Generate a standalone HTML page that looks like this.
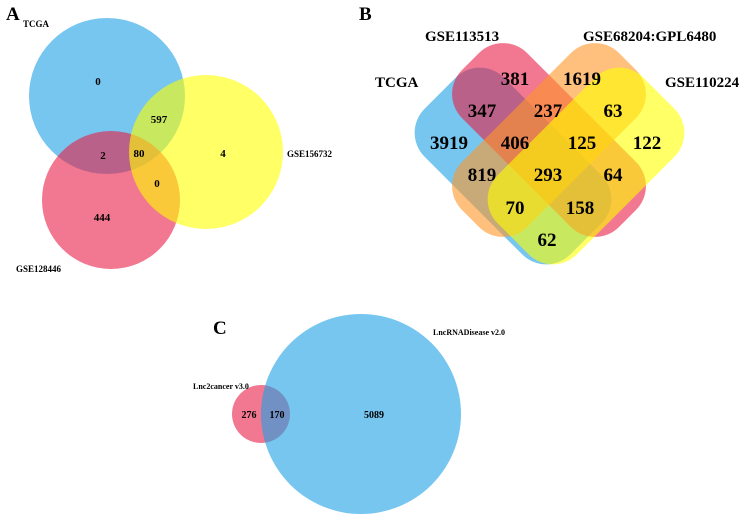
<!DOCTYPE html>
<html><head><meta charset="utf-8"><style>
html,body{margin:0;padding:0;background:#fff;}
svg{display:block;font-family:"Liberation Serif",serif;font-weight:bold;}
</style></head><body>
<svg width="755" height="522" viewBox="0 0 755 522">
<g>
  <text x="6" y="20" font-size="19">A</text>
  <circle cx="107" cy="96" r="78" fill="rgb(28,160,230)" fill-opacity="0.6"/>
  <circle cx="111" cy="200" r="69" fill="rgb(232,30,70)" fill-opacity="0.6"/>
  <circle cx="206" cy="152" r="77" fill="rgb(255,255,0)" fill-opacity="0.6"/>
  <g font-size="11" text-anchor="middle">
    <text x="98" y="85">0</text>
    <text x="159" y="123">597</text>
    <text x="103" y="159">2</text>
    <text x="139" y="157">80</text>
    <text x="223" y="157">4</text>
    <text x="157" y="187">0</text>
    <text x="102" y="221">444</text>
  </g>
  <g font-size="9">
    <text x="23" y="27">TCGA</text>
    <text x="287" y="157">GSE156732</text>
    <text x="16" y="272">GSE128446</text>
  </g>
</g>
<g>
  <text x="359" y="20" font-size="19">B</text>
  <rect x="410" y="110" width="206" height="112" rx="34" transform="rotate(45 513 166)" fill="rgb(28,160,230)" fill-opacity="0.6"/>
  <rect x="438" y="94" width="222" height="92" rx="34" transform="rotate(45 549 140)" fill="rgb(232,30,70)" fill-opacity="0.6"/>
  <rect x="438" y="94" width="222" height="92" rx="34" transform="rotate(-45 549 140)" fill="rgb(255,150,40)" fill-opacity="0.6"/>
  <rect x="483" y="110" width="206" height="112" rx="34" transform="rotate(-45 586 166)" fill="rgb(255,255,0)" fill-opacity="0.6"/>
  <g font-size="19" text-anchor="middle">
    <text x="515" y="85">381</text>
    <text x="582" y="85">1619</text>
    <text x="482" y="117">347</text>
    <text x="548" y="117">237</text>
    <text x="613" y="117">63</text>
    <text x="449" y="149">3919</text>
    <text x="515" y="149">406</text>
    <text x="582" y="149">125</text>
    <text x="647" y="149">122</text>
    <text x="482" y="181">819</text>
    <text x="548" y="181">293</text>
    <text x="613" y="181">64</text>
    <text x="515" y="214">70</text>
    <text x="580" y="214">158</text>
    <text x="547" y="246">62</text>
  </g>
  <g font-size="15">
    <text x="375" y="87">TCGA</text>
    <text x="425" y="41">GSE113513</text>
    <text x="583" y="41">GSE68204:GPL6480</text>
    <text x="665" y="87">GSE110224</text>
  </g>
</g>
<g>
  <text x="213" y="334" font-size="19">C</text>
  <circle cx="261" cy="414" r="29" fill="rgb(232,30,70)" fill-opacity="0.6"/>
  <circle cx="361" cy="414" r="100" fill="rgb(28,160,230)" fill-opacity="0.6"/>
  <g font-size="10" text-anchor="middle">
    <text x="249" y="418">276</text>
    <text x="277" y="418">170</text>
    <text x="374" y="418">5089</text>
  </g>
  <g font-size="8">
    <text x="193" y="389">Lnc2cancer v3.0</text>
    <text x="433" y="335">LncRNADisease v2.0</text>
  </g>
</g>
</svg>
</body></html>
